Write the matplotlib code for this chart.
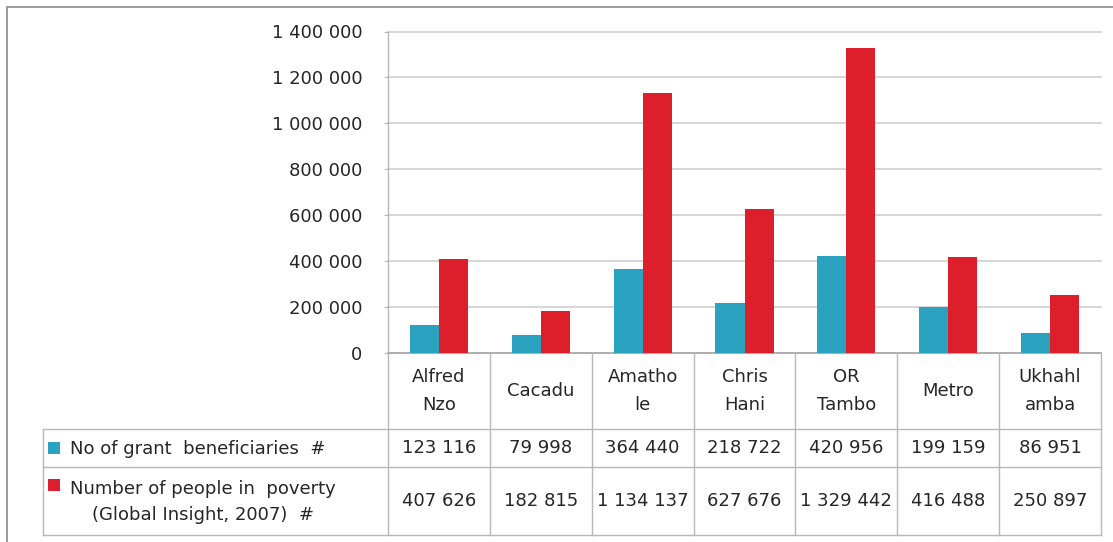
import matplotlib
matplotlib.use("Agg")
import matplotlib.pyplot as plt
from matplotlib.lines import Line2D
from matplotlib.patches import Rectangle

# Districts (header row of the data table)
districts = ["Alfred\nNzo", "Cacadu", "Amatho\nle", "Chris\nHani", "OR\nTambo", "Metro", "Ukhahl\namba"]

# Series values
grant_beneficiaries = [123116, 79998, 364440, 218722, 420956, 199159, 86951]
people_in_poverty = [407626, 182815, 1134137, 627676, 1329442, 416488, 250897]

series_labels = ["No of grant  beneficiaries  #",
                 "Number of people in  poverty\n(Global Insight, 2007)  #"]

y_ticks = [0, 200000, 400000, 600000, 800000, 1000000, 1200000, 1400000]

TEAL = "#2ba2bf"
RED = "#dc1f2a"
GRID = "#cfcfcf"
LINE = "#b8b8b8"
TEXT = "#262626"

plt.rcParams["font.family"] = ["DejaVu Sans"]
FS = 13

W, H = 1113, 542
fig = plt.figure(figsize=(W / 100, H / 100), dpi=100)
fig.patch.set_facecolor("white")

# pixel geometry of the chart area
x0, x1 = 388, 1101
y_zero, y_top = 353, 31.5
row1_bottom, row2_bottom = 429, 467
table_bottom = 535
table_left = 43


def fx(px):
    return px / W


def fy(py):
    return 1 - py / H


ax = fig.add_axes([fx(x0), fy(y_zero), fx(x1) - fx(x0), fy(y_top) - fy(y_zero)])
n = len(districts)
xs = list(range(n))
bw = 0.285
ax.bar([x - bw / 2 for x in xs], grant_beneficiaries, width=bw, color=TEAL, zorder=3)
ax.bar([x + bw / 2 for x in xs], people_in_poverty, width=bw, color=RED, zorder=3)
ax.set_xlim(-0.5, n - 0.5)
ax.set_ylim(0, 1400000)
ax.set_yticks(y_ticks)
ax.set_yticklabels([f"{v:,}".replace(",", " ") for v in y_ticks], fontsize=FS, color=TEXT)
ax.set_xticks([])
ax.yaxis.grid(True, color=GRID, linewidth=1.2, zorder=0)
for gl in ax.get_ygridlines():
    gl.set_clip_on(False)
ax.tick_params(axis="y", length=3, color=LINE, pad=15.5)
for s in ["top", "right"]:
    ax.spines[s].set_visible(False)
ax.spines["left"].set_color(LINE)
ax.spines["bottom"].set_color("#a8a8a8")
ax.spines["left"].set_linewidth(1.0)
ax.spines["bottom"].set_linewidth(1.2)

# overlay in pixel coordinates for the data table and frame
ov = fig.add_axes([0, 0, 1, 1], zorder=5)
ov.set_xlim(0, W)
ov.set_ylim(H, 0)
ov.axis("off")
ov.patch.set_alpha(0)

col_w = (x1 - x0) / n


def hline(xa, xb, y, color=LINE, lw=1.0):
    ov.add_line(Line2D([xa, xb], [y, y], color=color, lw=lw))


def vline(x, ya, yb, color=LINE, lw=1.0):
    ov.add_line(Line2D([x, x], [ya, yb], color=color, lw=lw))


# table grid
hline(table_left, x1, row1_bottom)
hline(table_left, x1, row2_bottom)
hline(table_left, x1, table_bottom)
vline(table_left, row1_bottom, table_bottom)
for i in range(n + 1):
    vline(x0 + i * col_w, y_zero, table_bottom)

# header row
for i, name in enumerate(districts):
    cx = x0 + (i + 0.5) * col_w
    ov.text(cx, (y_zero + row1_bottom) / 2, name, ha="center", va="center",
            fontsize=FS, color=TEXT, linespacing=1.7)

# value rows
row_centers = [(row1_bottom + row2_bottom) / 2, (row2_bottom + table_bottom) / 2]
for vals, yc in zip([grant_beneficiaries, people_in_poverty], row_centers):
    for i, v in enumerate(vals):
        cx = x0 + (i + 0.5) * col_w
        ov.text(cx, yc, f"{v:,}".replace(",", " "), ha="center", va="center",
                fontsize=FS, color=TEXT)

# legend keys and series labels
for label, color, yc in zip(series_labels, [TEAL, RED], row_centers):
    key_y = yc - 6 if "\n" not in label else yc - 22
    ov.add_patch(Rectangle((48, key_y), 12, 12, facecolor=color, edgecolor="none"))
    ov.text(70, yc + 1, label, ha="left", va="center", fontsize=FS, color=TEXT,
            multialignment="center", linespacing=1.5)

# outer frame
ov.add_line(Line2D([7, 7], [7, H], color="#9c9c9c", lw=1.4))
ov.add_line(Line2D([7, W], [7, 7], color="#9c9c9c", lw=1.4))

fig.savefig("out.png", dpi=100, facecolor="white")
